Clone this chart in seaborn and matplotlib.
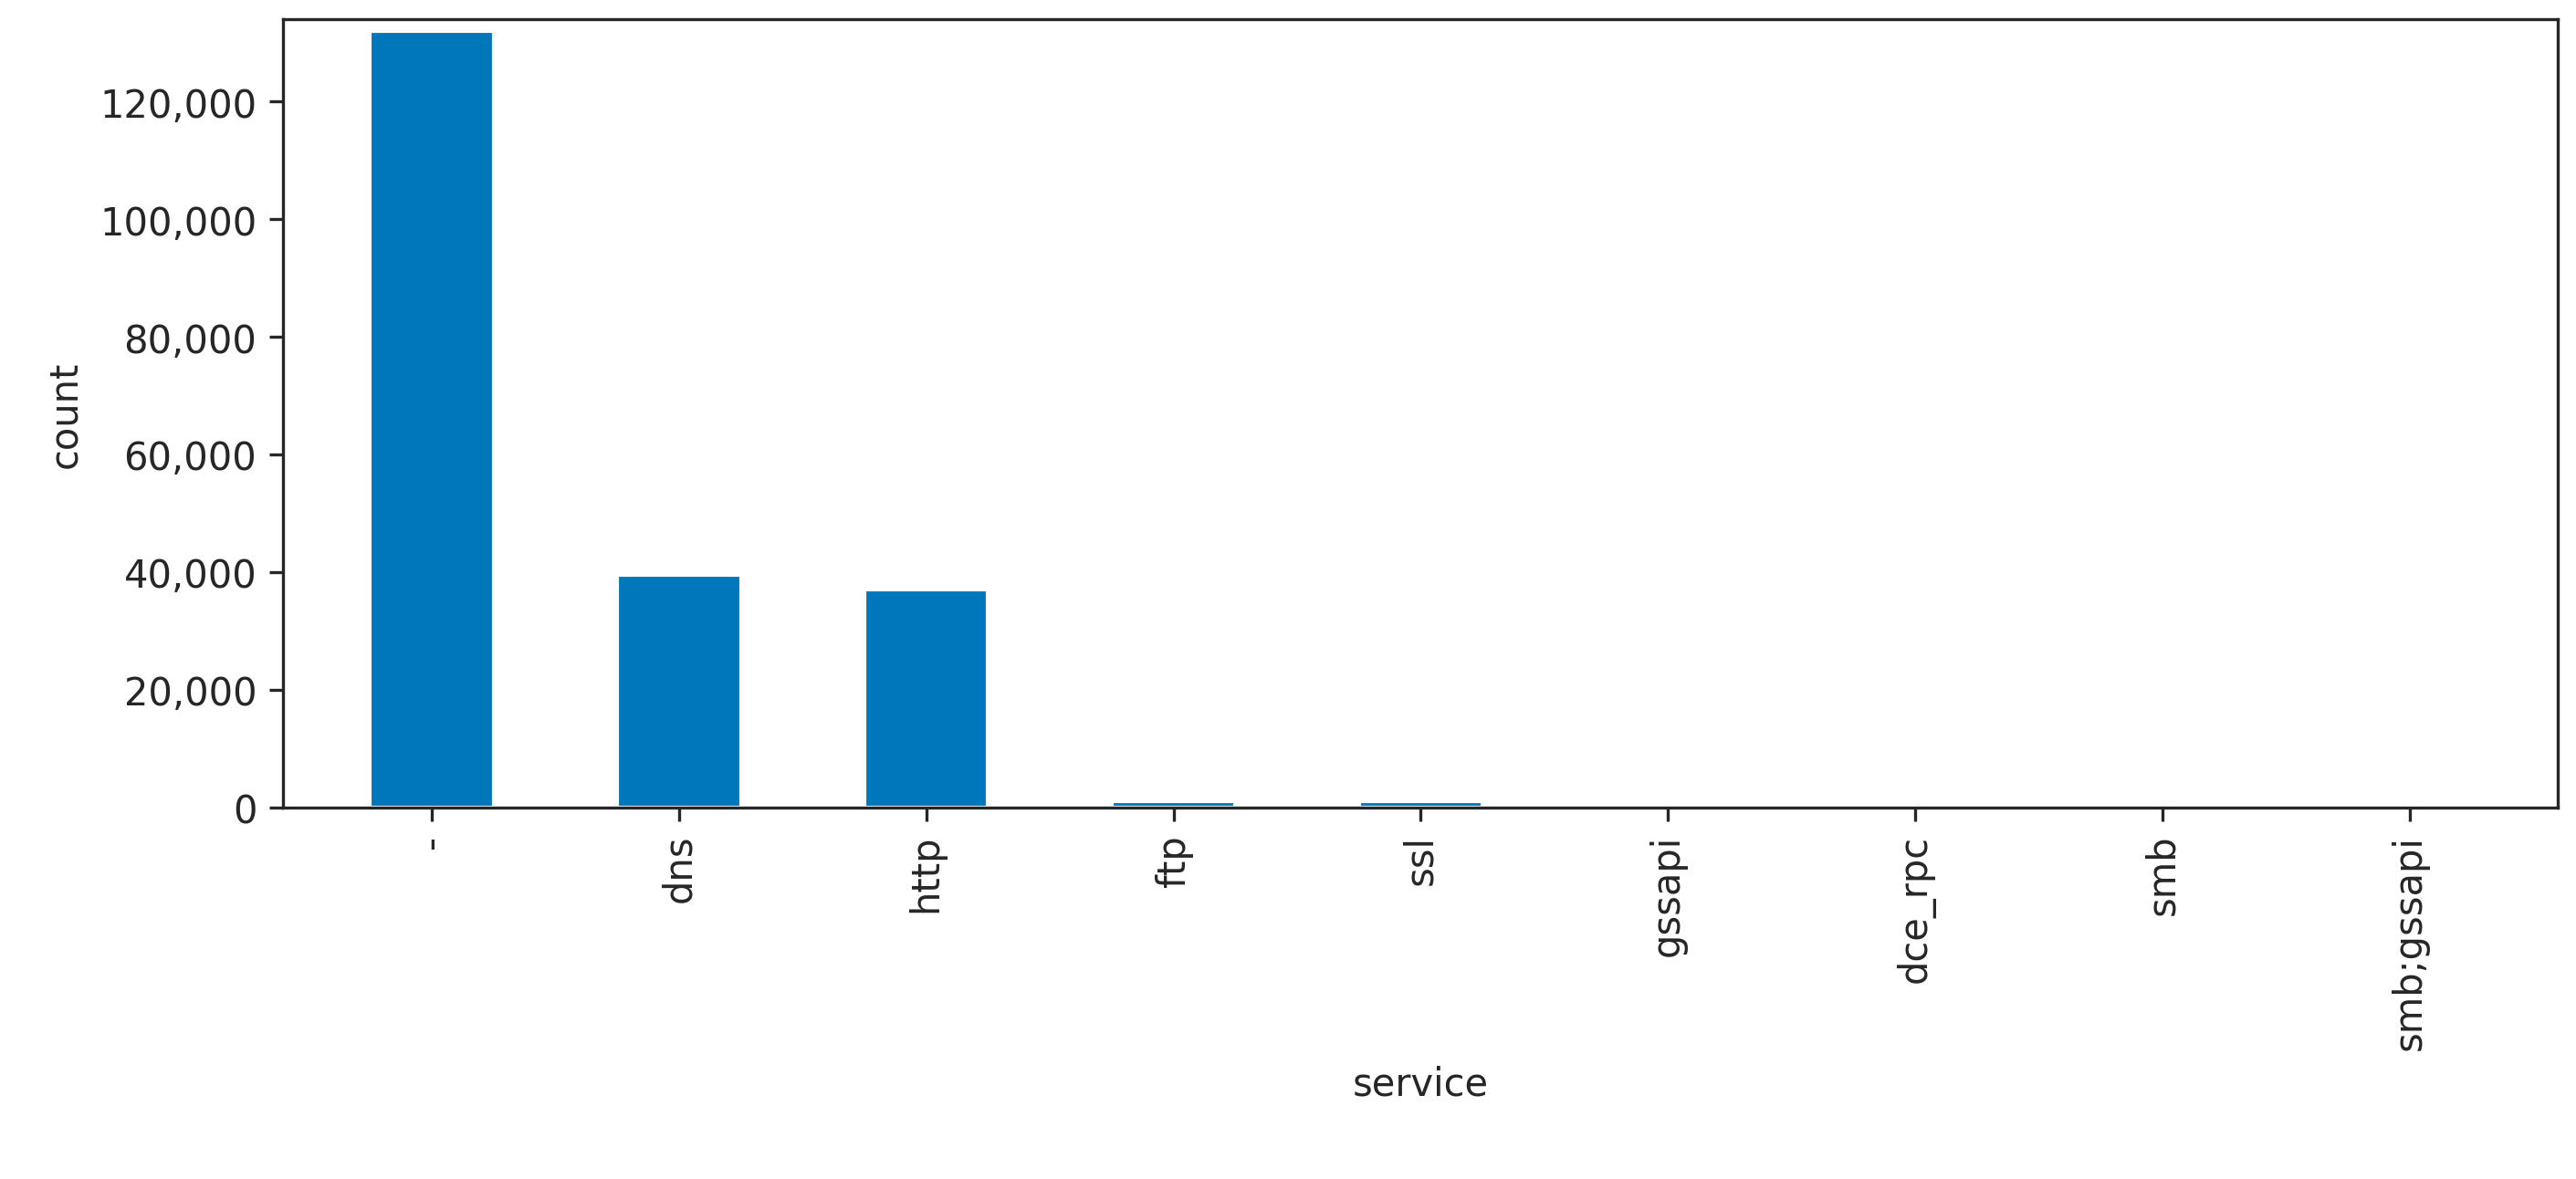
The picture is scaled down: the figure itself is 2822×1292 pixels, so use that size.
import matplotlib
matplotlib.use("Agg")
import matplotlib.pyplot as plt
import seaborn as sns
import pandas as pd
from matplotlib.ticker import FuncFormatter

services = ["-", "dns", "http", "ftp", "ssl", "gssapi", "dce_rpc", "smb", "smb;gssapi"]
counts = [132000, 39500, 37000, 1100, 1000, 60, 40, 30, 15]

sns.set_style("ticks")
plt.rcParams['font.family'] = ['DejaVu Sans']
df = pd.DataFrame({"service": services, "count": counts})
fig = plt.figure(figsize=(9.407, 4.31), dpi=300)
ax = fig.add_axes([0.110, 0.315, 0.883, 0.668])
sns.barplot(data=df, x="service", y="count", color="#0077BB", saturation=1, width=0.5, ax=ax)
ax.yaxis.set_major_formatter(FuncFormatter(lambda v, p: f"{int(v):,}"))
ax.set_ylim(0, 134000)
ax.set_xlim(-0.6, 8.6)
ax.tick_params(axis="x", rotation=90)
ax.set_xlabel("service")
ax.set_ylabel("count")
fig.savefig("out.png", dpi=300)
